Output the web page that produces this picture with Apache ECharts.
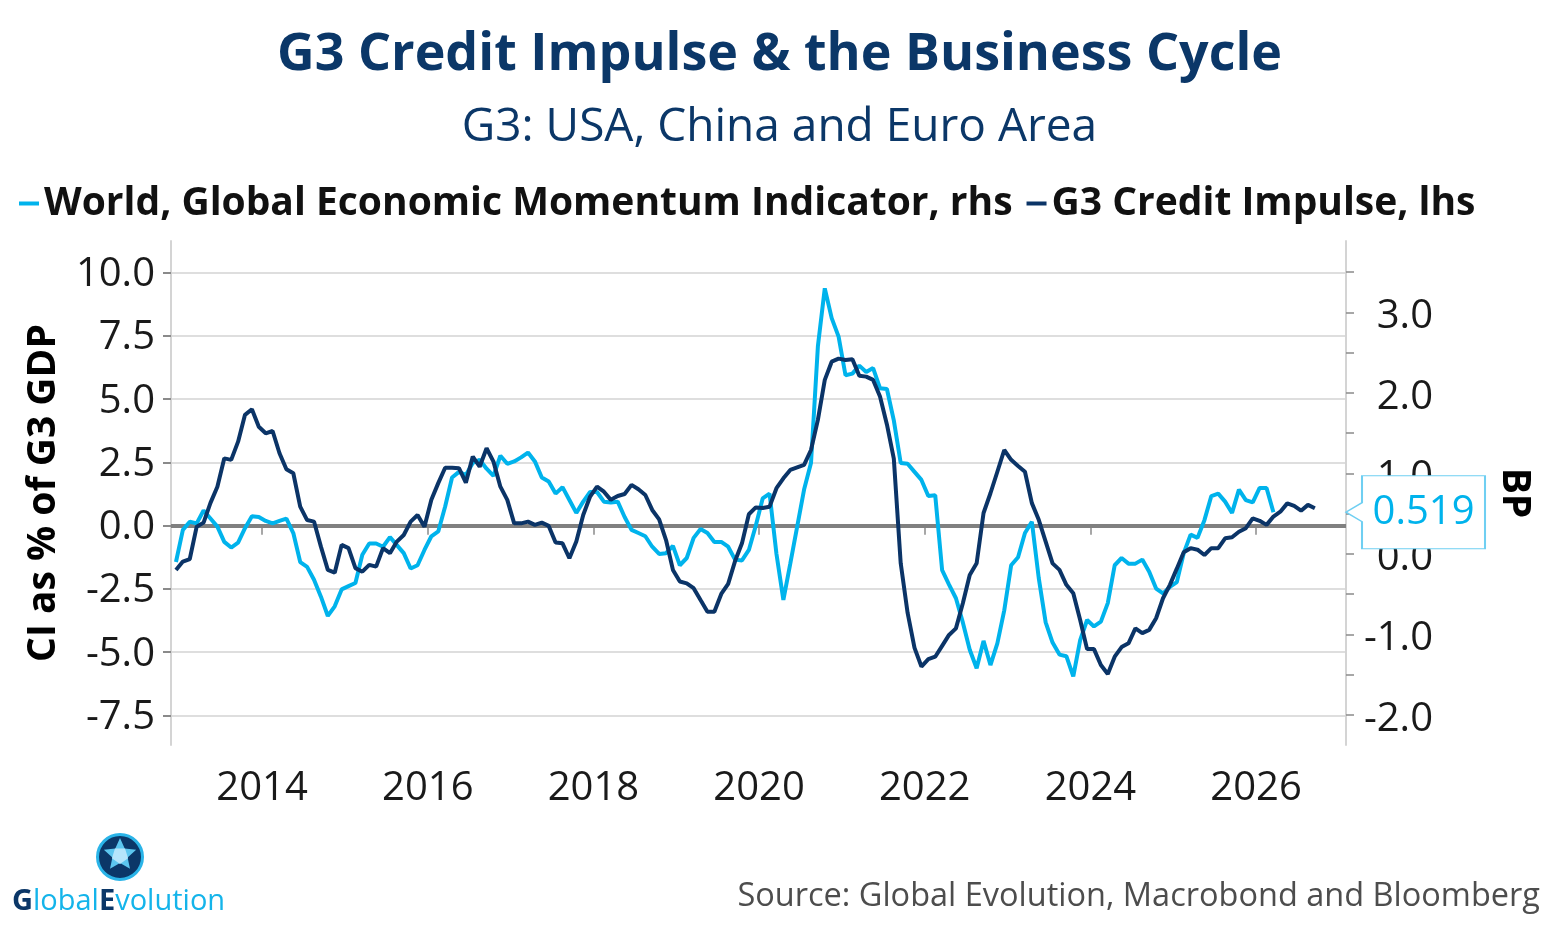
<!DOCTYPE html>
<html>
<head>
<meta charset="utf-8">
<script src="https://cdn.jsdelivr.net/npm/echarts@6/dist/echarts.min.js"></script>
<style>
html,body{margin:0;padding:0;background:#fff;}
#chart{width:1559px;height:935px;}
</style>
</head>
<body>
<div id="chart"></div>
<script>
// ---- data (monthly observations, first one Dec 2012) ----
const START_YEAR = 2012.96;
const MONTH = 1 / 12;

// World, Global Economic Momentum Indicator (BP), right axis
const gemiValues = [
  -0.10, 0.30, 0.40, 0.38, 0.54, 0.44, 0.34, 0.15, 0.08, 0.14,
  0.32, 0.47, 0.46, 0.41, 0.38, 0.41, 0.44, 0.26, -0.10, -0.16,
  -0.32, -0.53, -0.77, -0.65, -0.44, -0.40, -0.36, -0.01, 0.13, 0.13,
  0.09, 0.21, 0.11, 0.01, -0.18, -0.14, 0.05, 0.22, 0.28, 0.59,
  0.95, 1.02, 0.98, 1.13, 1.17, 1.06, 0.97, 1.22, 1.12, 1.15,
  1.20, 1.26, 1.15, 0.95, 0.90, 0.75, 0.83, 0.67, 0.51, 0.65,
  0.77, 0.77, 0.65, 0.64, 0.65, 0.46, 0.30, 0.26, 0.22, 0.09,
  0.00, 0.01, 0.10, -0.14, -0.05, 0.20, 0.31, 0.26, 0.15, 0.15,
  0.09, -0.07, -0.08, 0.05, 0.35, 0.69, 0.75, 0.00, -0.57, -0.12,
  0.34, 0.80, 1.13, 2.58, 3.30, 2.93, 2.70, 2.22, 2.24, 2.34,
  2.26, 2.31, 2.06, 2.05, 1.66, 1.13, 1.12, 1.02, 0.92, 0.72,
  0.73, -0.20, -0.38, -0.55, -0.85, -1.19, -1.42, -1.08, -1.38, -1.11,
  -0.70, -0.14, -0.04, 0.26, 0.40, -0.30, -0.85, -1.10, -1.25, -1.27,
  -1.52, -1.07, -0.82, -0.90, -0.84, -0.61, -0.14, -0.05, -0.12, -0.12,
  -0.07, -0.22, -0.43, -0.49, -0.41, -0.35, 0.01, 0.24, 0.20, 0.42,
  0.72, 0.75, 0.65, 0.51, 0.80, 0.67, 0.64, 0.82, 0.82, 0.519
];

// G3 Credit Impulse (% of G3 GDP), left axis
const creditImpulseValues = [
  -1.75, -1.42, -1.32, -0.04, 0.12, 0.90, 1.54, 2.66, 2.60, 3.32,
  4.38, 4.60, 3.91, 3.65, 3.74, 2.86, 2.23, 2.07, 0.75, 0.22,
  0.16, -0.83, -1.75, -1.86, -0.76, -0.89, -1.68, -1.82, -1.55, -1.62,
  -0.89, -1.09, -0.63, -0.37, 0.16, 0.42, -0.04, 1.02, 1.68, 2.29,
  2.29, 2.27, 1.70, 2.73, 2.33, 3.06, 2.53, 1.54, 1.02, 0.09,
  0.09, 0.16, 0.03, 0.12, -0.01, -0.67, -0.70, -1.29, -0.63, 0.42,
  1.15, 1.54, 1.34, 1.02, 1.17, 1.25, 1.61, 1.44, 1.21, 0.62,
  0.25, -0.57, -1.75, -2.21, -2.28, -2.47, -2.94, -3.40, -3.40, -2.70,
  -2.30, -1.40, -0.70, 0.45, 0.72, 0.70, 0.75, 1.48, 1.87, 2.20,
  2.30, 2.40, 2.99, 4.18, 5.76, 6.48, 6.60, 6.55, 6.58, 5.92,
  5.89, 5.76, 5.10, 4.00, 2.65, -1.49, -3.45, -4.83, -5.57, -5.28,
  -5.18, -4.75, -4.32, -4.06, -3.07, -1.95, -1.49, 0.50, 1.28, 2.13,
  2.99, 2.60, 2.36, 2.13, 0.89, 0.23, -0.63, -1.49, -1.75, -2.34,
  -2.67, -3.73, -4.88, -4.88, -5.51, -5.86, -5.18, -4.80, -4.65, -4.06,
  -4.25, -4.12, -3.66, -2.87, -2.34, -1.70, -1.05, -0.89, -0.95, -1.16,
  -0.89, -0.89, -0.50, -0.46, -0.24, -0.10, 0.29, 0.19, 0.03, 0.36,
  0.55, 0.88, 0.78, 0.59, 0.82, 0.69
];

const seriesNames = ['World, Global Economic Momentum Indicator, rhs', 'G3 Credit Impulse, lhs'];
const xTickYears = [2014, 2016, 2018, 2020, 2022, 2024, 2026];
const leftTickValues = [-7.5, -5, -2.5, 0, 2.5, 5, 7.5, 10];
const rightTickValues = [-2, -1.5, -1, -0.5, 0, 0.5, 1, 1.5, 2, 2.5, 3, 3.5];
const rightLabelValues = [-2, -1, 0, 1, 2, 3];

// axis extents
const X_MIN = 2012.90, X_MAX = 2027.086;
const L_MIN = -8.67, L_MAX = 11.25;
const R_MIN = -2.373, R_MAX = 3.888;

// ---- build ----
const FONT = 'Open Sans';
const DARK = '#0b3467';
const LIGHT = '#00b3ec';
const toPairs = arr => arr.map((v, i) => [START_YEAR + i * MONTH, v]);
const lastGemi = gemiValues[gemiValues.length - 1];

function starPoints(cx, cy, R, r) {
  const pts = [];
  for (let k = 0; k < 10; k++) {
    const ang = -Math.PI / 2 + k * Math.PI / 5;
    const rad = k % 2 === 0 ? R : r;
    pts.push([cx + rad * Math.cos(ang), cy + rad * Math.sin(ang)]);
  }
  return pts;
}
function pentagon(cx, cy, r) {
  const pts = [];
  for (let k = 0; k < 5; k++) {
    const ang = -Math.PI / 2 + Math.PI / 5 + k * 2 * Math.PI / 5;
    pts.push([cx + r * Math.cos(ang), cy + r * Math.sin(ang)]);
  }
  return pts;
}

const chart = echarts.init(document.getElementById('chart'), null, {renderer: 'canvas'});

const option = {
  backgroundColor: '#ffffff',
  animation: false,
  textStyle: {fontFamily: FONT},
  title: [
    {
      text: 'G3 Credit Impulse & the Business Cycle',
      left: 'center', top: 24,
      textStyle: {fontFamily: FONT, fontSize: 52, fontWeight: 'bold', color: '#0b3768'}
    },
    {
      text: 'G3: USA, China and Euro Area',
      left: 'center', top: 100,
      textStyle: {fontFamily: FONT, fontSize: 46, fontWeight: 'normal', color: '#0b3768'}
    }
  ],
  legend: {
    data: seriesNames,
    left: 14, top: 179,
    icon: 'rect', itemWidth: 20, itemHeight: 4, itemGap: 14,
    textStyle: {fontFamily: FONT, fontSize: 39, fontWeight: 'bold', color: '#111111'},
    selectedMode: false
  },
  grid: {left: 171, right: 213, top: 241, bottom: 190, containLabel: false, outerBoundsMode: 'none'},
  xAxis: {
    type: 'value', min: X_MIN, max: X_MAX,
    axisLine: {show: true, lineStyle: {color: '#d4d4d4', width: 2}},
    axisTick: {show: true, inside: false, length: 9, customValues: xTickYears, lineStyle: {color: '#8a8a8a', width: 1.5}},
    axisLabel: {customValues: xTickYears, formatter: v => String(Math.round(v)), fontFamily: FONT, fontSize: 40, color: '#1a1a1a', margin: 24},
    splitLine: {show: false}
  },
  yAxis: [
    {
      type: 'value', position: 'left', min: L_MIN, max: L_MAX,
      name: 'CI as % of G3 GDP', nameLocation: 'middle', nameGap: 108, nameRotate: 90,
      nameTextStyle: {fontFamily: FONT, fontSize: 39, fontWeight: 'bold', color: '#000'},
      axisLine: {show: true, lineStyle: {color: '#d4d4d4', width: 2}},
      axisTick: {show: true, inside: false, length: 8, customValues: leftTickValues, lineStyle: {color: '#8a8a8a', width: 2}},
      axisLabel: {
        customValues: leftTickValues, formatter: v => '{t|' + v.toFixed(1) + '}', margin: 16,
        rich: {t: {fontFamily: FONT, fontSize: 40, color: '#1a1a1a', padding: [4, 0, 0, 0]}}
      },
      splitLine: {show: false}
    },
    {
      type: 'value', position: 'right', min: R_MIN, max: R_MAX,
      name: 'BP', nameLocation: 'middle', nameGap: 149, nameRotate: -90,
      nameTextStyle: {fontFamily: FONT, fontSize: 39, fontWeight: 'bold', color: '#000'},
      axisLine: {show: true, lineStyle: {color: '#d4d4d4', width: 2}},
      axisTick: {show: true, inside: false, length: 8, customValues: rightTickValues, lineStyle: {color: '#8a8a8a', width: 1.5}},
      axisLabel: {
        customValues: rightLabelValues, formatter: v => '{t|' + v.toFixed(1) + '}', margin: 87, align: 'right',
        rich: {t: {fontFamily: FONT, fontSize: 40, color: '#1a1a1a', padding: [9, 0, 0, 0]}}
      },
      splitLine: {show: false}
    }
  ],
  series: [
    {
      // horizontal grid lines + zero line
      type: 'line', data: [], yAxisIndex: 0, silent: true,
      markLine: {
        silent: true, symbol: ['none', 'none'], z: 1, animation: false,
        label: {show: false},
        emphasis: {disabled: true},
        data: leftTickValues.map(v => ({
          yAxis: v,
          lineStyle: v === 0 ? {color: '#808080', width: 4, type: 'solid'} : {color: '#d3d3d3', width: 1.5, type: 'solid'}
        }))
      }
    },
    {
      name: seriesNames[0], type: 'line', yAxisIndex: 1,
      data: toPairs(gemiValues),
      showSymbol: false, symbol: 'none', clip: false,
      lineStyle: {color: LIGHT, width: 4},
      itemStyle: {color: LIGHT},
      emphasis: {disabled: true},
      z: 3,
      markPoint: {
        silent: true, z: 10,
        symbol: 'path://M0,36.5L16,27L16,0L139,0L139,73L16,73L16,46Z',
        symbolSize: [139, 73], symbolOffset: [69.5, 0], symbolKeepAspect: false,
        itemStyle: {color: '#ffffff', borderColor: '#6fcff2', borderWidth: 1.5},
        label: {show: true, position: 'inside', offset: [8, 0], color: LIGHT, fontFamily: FONT, fontSize: 40,
          formatter: p => Number(p.value).toFixed(3)},
        data: [{coord: [X_MAX, lastGemi], value: lastGemi}]
      }
    },
    {
      name: seriesNames[1], type: 'line', yAxisIndex: 0,
      data: toPairs(creditImpulseValues),
      showSymbol: false, symbol: 'none',
      lineStyle: {color: DARK, width: 4},
      itemStyle: {color: DARK},
      emphasis: {disabled: true},
      z: 4
    }
  ],
  graphic: [
    {type: 'circle', shape: {cx: 120, cy: 857, r: 22.5}, style: {fill: '#0b3768', stroke: '#2ab4e8', lineWidth: 3}, silent: true},
    {type: 'polygon', shape: {points: starPoints(120, 855, 17, 8)}, style: {fill: '#5cc6ef'}, silent: true},
    {type: 'polygon', shape: {points: pentagon(120, 855.5, 8.5)}, style: {fill: '#b5e5fb'}, silent: true},
    {
      type: 'text', x: 12, y: 902, silent: true,
      style: {
        text: '{a|G}{b|lobal}{a|E}{b|volution}',
        verticalAlign: 'middle', align: 'left',
        rich: {
          a: {fill: '#0b3768', fontSize: 29, fontFamily: FONT, fontWeight: 'bold'},
          b: {fill: '#14b4ea', fontSize: 29, fontFamily: FONT, fontWeight: 'normal'}
        }
      }
    },
    {
      type: 'text', x: 1540, y: 897, silent: true,
      style: {text: 'Source: Global Evolution, Macrobond and Bloomberg', align: 'right', verticalAlign: 'middle',
        fill: '#4d4d4d', fontSize: 32.5, fontFamily: FONT}
    }
  ]
};

chart.setOption(option);
</script>
</body>
</html>
